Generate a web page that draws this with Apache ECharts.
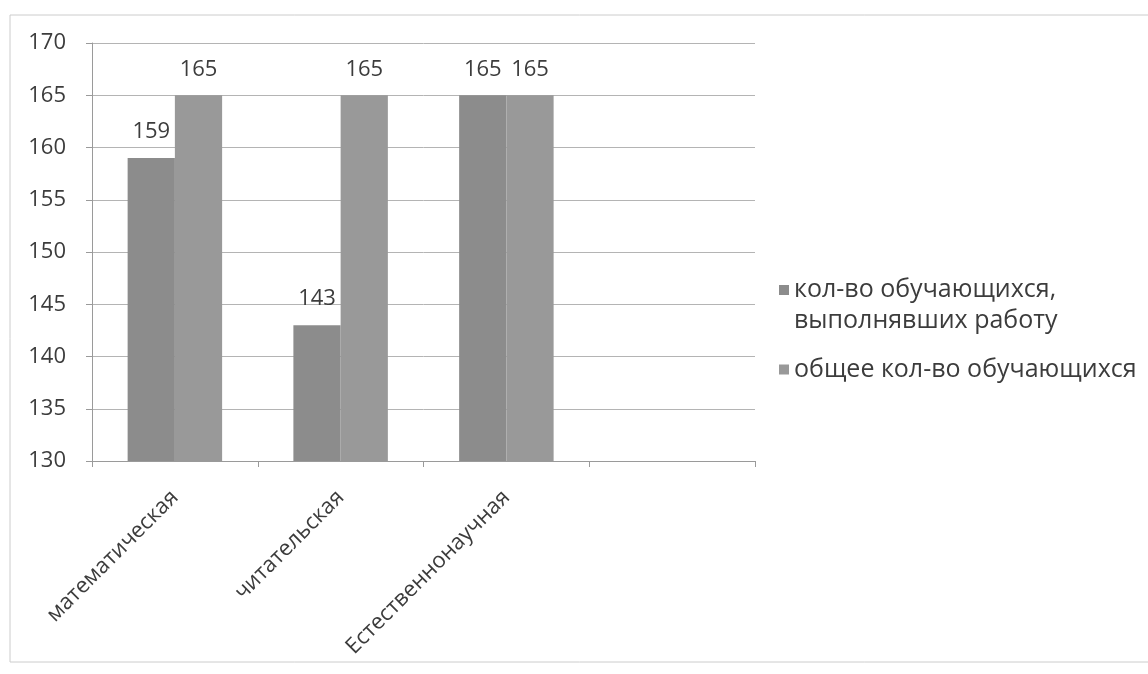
<!DOCTYPE html>
<html><head><meta charset="utf-8">
<script src="https://cdn.jsdelivr.net/npm/echarts@6/dist/echarts.min.js"></script>
<style>html,body{margin:0;padding:0;background:#fff}#c{width:1148px;height:674px}</style>
</head><body><div id="c"></div>
<script>
const categories = ['математическая', 'читательская', 'Естественнонаучная', ''];
const seriesNames = ['кол-во обучающихся,\nвыполнявших работу', 'общее кол-во обучающихся'];
const performed = [159, 143, 165, null];
const total = [165, 165, 165, null];
const yMin = 130, yMax = 170, yStep = 5;

const FONT = 'Open Sans';
const TXT = '#3c3c3c';
const tallIcon = 'path://M0,0h10v10h-10z M0,40h0.01v0.01h-0.01z';
const chart = echarts.init(document.getElementById('c'));
chart.setOption({
  backgroundColor: '#fff',
  animation: false,
  textStyle: { fontFamily: FONT },
  graphic: [{ type: 'rect', shape: { x: 10, y: 15, width: 1160, height: 647 }, style: { fill: 'none', stroke: '#cccccc', lineWidth: 1 } }],
  legend: [
    { data: [seriesNames[0]], orient: 'vertical', left: 779, top: 274, padding: 0, itemWidth: 10, itemHeight: 40,
      icon: tallIcon, symbolKeepAspect: false,
      textStyle: { fontSize: 25, color: TXT, fontFamily: FONT, lineHeight: 31 } },
    { data: [seriesNames[1]], orient: 'vertical', left: 779, top: 357, padding: 0, itemWidth: 10, itemHeight: 10,
      icon: 'rect',
      textStyle: { fontSize: 25, color: TXT, fontFamily: FONT } }
  ],
  grid: { left: 92, right: 393, top: 43, bottom: 213 },
  xAxis: {
    type: 'category', data: categories,
    axisLine: { lineStyle: { color: '#9a9a9a' } },
    axisTick: { show: true, length: 6, lineStyle: { color: '#9a9a9a' } },
    axisLabel: { rotate: 45, fontSize: 22, color: TXT, margin: 33, interval: 0 }
  },
  yAxis: {
    type: 'value', min: yMin, max: yMax, interval: yStep,
    axisLine: { show: true, lineStyle: { color: '#9a9a9a' } },
    axisTick: { show: true, length: 6, lineStyle: { color: '#9a9a9a' } },
    splitLine: { lineStyle: { color: '#b4b4b4' } },
    axisLabel: { fontSize: 22, color: TXT, margin: 26 }
  },
  series: [
    { name: seriesNames[0], type: 'bar', data: performed, barGap: '0%', barCategoryGap: '43%',
      itemStyle: { color: '#8c8c8c' },
      label: { show: true, position: 'top', distance: 15, fontSize: 22, color: TXT } },
    { name: seriesNames[1], type: 'bar', data: total,
      itemStyle: { color: '#999999' },
      label: { show: true, position: 'top', distance: 15, fontSize: 22, color: TXT } }
  ]
});
</script></body></html>
